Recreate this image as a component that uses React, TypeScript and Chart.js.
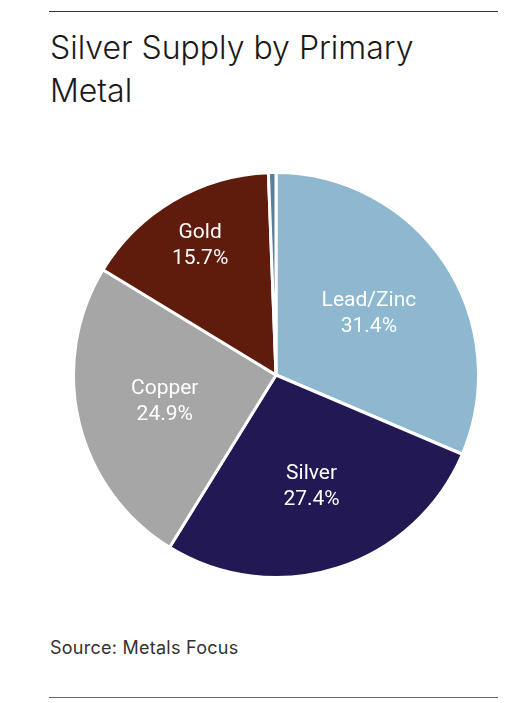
import React, { useEffect, useRef } from "react";
import { Chart, registerables } from "chart.js";

Chart.register(...registerables);

const categories = ["Lead/Zinc", "Silver", "Copper", "Gold", "Other"];
const shares = [31.4, 27.4, 24.9, 15.7, 0.6];
const sliceColors = ["#8db8d0", "#221853", "#a6a6a6", "#5f1c0d", "#5e7e98"];
// how far along the radius each slice label sits (0 = no label)
const labelRadius = [0.55, 0.58, 0.565, 0.74, 0];

const sliceLabels = {
  id: "sliceLabels",
  afterDatasetsDraw(chart: any) {
    const { ctx } = chart;
    const meta = chart.getDatasetMeta(0);
    ctx.save();
    ctx.fillStyle = "#ffffff";
    ctx.font = "400 21px Roboto, 'Liberation Sans', sans-serif";
    ctx.textAlign = "center";
    ctx.textBaseline = "middle";
    meta.data.forEach((arc: any, i: number) => {
      const f = labelRadius[i];
      if (!f) return;
      const { x, y, startAngle, endAngle, outerRadius } = arc.getProps(
        ["x", "y", "startAngle", "endAngle", "outerRadius"],
        true
      );
      const mid = (startAngle + endAngle) / 2;
      const r = outerRadius * f;
      const cx = x + Math.cos(mid) * r;
      const cy = y + Math.sin(mid) * r;
      ctx.fillText(categories[i], cx, cy - 13);
      ctx.fillText(shares[i].toFixed(1) + "%", cx, cy + 13);
    });
    ctx.restore();
  },
};

export default function App() {
  const canvasRef = useRef<HTMLCanvasElement | null>(null);

  useEffect(() => {
    if (!canvasRef.current) return;
    const chart = new Chart(canvasRef.current, {
      type: "pie",
      data: {
        labels: categories,
        datasets: [
          {
            data: shares,
            backgroundColor: sliceColors,
            borderColor: "#ffffff",
            borderWidth: 3,
          },
        ],
      },
      options: {
        animation: false,
        responsive: false,
        maintainAspectRatio: false,
        layout: { padding: 0 },
        plugins: {
          legend: { display: false },
          tooltip: { enabled: false },
        },
      },
      plugins: [sliceLabels],
    });
    return () => chart.destroy();
  }, []);

  return (
    <div
      style={{
        position: "absolute",
        left: 0,
        top: 0,
        width: 516,
        height: 703,
        background: "#ffffff",
        fontFamily: "Inter, 'Liberation Sans', sans-serif",
      }}
    >
      <div
        style={{
          position: "absolute",
          left: 49,
          top: 11,
          width: 449,
          height: 1,
          background: "#333333",
        }}
      />
      <div
        style={{
          position: "absolute",
          left: 50,
          top: 26,
          width: 440,
          fontSize: 32,
          fontWeight: 300,
          lineHeight: "43px",
          color: "#1a1a1a",
        }}
      >
        Silver Supply by Primary
        <br />
        Metal
      </div>
      <canvas
        ref={canvasRef}
        width={408}
        height={410}
        style={{ position: "absolute", left: 72, top: 170, width: 408, height: 410 }}
      />
      <div
        style={{
          position: "absolute",
          left: 50,
          top: 637,
          fontSize: 18,
          letterSpacing: "0.25px",
          color: "#333333",
          lineHeight: "22px",
        }}
      >
        Source: Metals Focus
      </div>
      <div
        style={{
          position: "absolute",
          left: 49,
          top: 697,
          width: 449,
          height: 1,
          background: "#666666",
        }}
      />
    </div>
  );
}
